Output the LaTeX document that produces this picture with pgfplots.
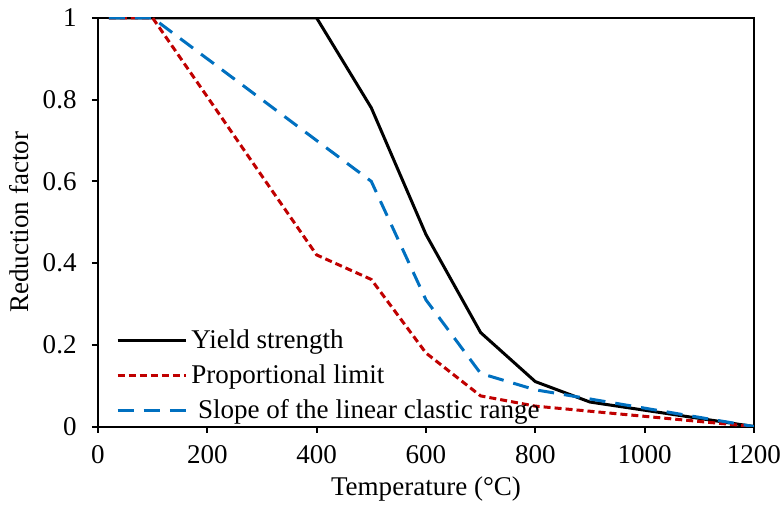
\documentclass[border=0pt]{standalone}
\usepackage{fontspec}
\setmainfont{Liberation Serif}
\usepackage{pgfplots}
\pgfplotsset{compat=1.18}
\definecolor{cred}{RGB}{192,0,0}
\definecolor{cblue}{RGB}{0,112,192}
\begin{document}
\fontsize{13.5pt}{16pt}\selectfont
\begin{tikzpicture}
\begin{axis}[
  scale only axis, width=327.5pt, height=204pt,
  xmin=0, xmax=1200, ymin=0, ymax=1,
  xtick={0,200,...,1200}, ytick={0,0.2,...,1},
  yticklabels={0,0.2,0.4,0.6,0.8,1},
  xticklabels={0,200,400,600,800,1000,1200},
  xtick pos=left, ytick pos=left, tick align=outside,
  major tick length=3pt,
  axis line style={line width=1pt},
  every tick/.style={line width=1pt, black},
  /pgf/number format/assume math mode=true,
  ticklabel style={font=\fontsize{13.5pt}{16pt}\selectfont},
  yticklabel style={xshift=-3pt},
  xticklabel style={yshift=-2pt, inner xsep=0pt},
  label style={font=\fontsize{13.5pt}{16pt}\selectfont},
  xlabel={Temperature (°C)}, ylabel={Reduction factor},
  xlabel style={yshift=3pt}, ylabel style={yshift=-2pt},
  legend style={draw=none, fill=none, at={(0.018,-0.01)}, anchor=south west,
    font=\fontsize{13.5pt}{16pt}\selectfont, row sep=2pt},
  legend cell align=left,
  legend image code/.code={\draw[#1] (0cm,0cm) -- (34pt,0cm);},
]
\addplot[black, line width=1.5pt] coordinates {(20,1)(100,1)(200,1)(300,1)(400,1)(500,0.78)(600,0.47)(700,0.23)(800,0.11)(900,0.06)(1000,0.04)(1100,0.02)(1200,0)};
\addlegendentry{Yield strength}
\addplot[cred, line width=1.5pt, dash pattern=on 3.5pt off 2pt] coordinates {(20,1)(100,1)(200,0.807)(300,0.613)(400,0.42)(500,0.36)(600,0.18)(700,0.075)(800,0.05)(900,0.0375)(1000,0.025)(1100,0.0125)(1200,0)};
\addlegendentry{Proportional limit}
\addplot[cblue, line width=1.5pt, dash pattern=on 8pt off 5pt] coordinates {(20,1)(100,1)(200,0.9)(300,0.8)(400,0.7)(500,0.6)(600,0.31)(700,0.13)(800,0.09)(900,0.0675)(1000,0.045)(1100,0.0225)(1200,0)};
\addlegendentry{\ Slope of the linear clastic range}
\end{axis}
\end{tikzpicture}
\end{document}
